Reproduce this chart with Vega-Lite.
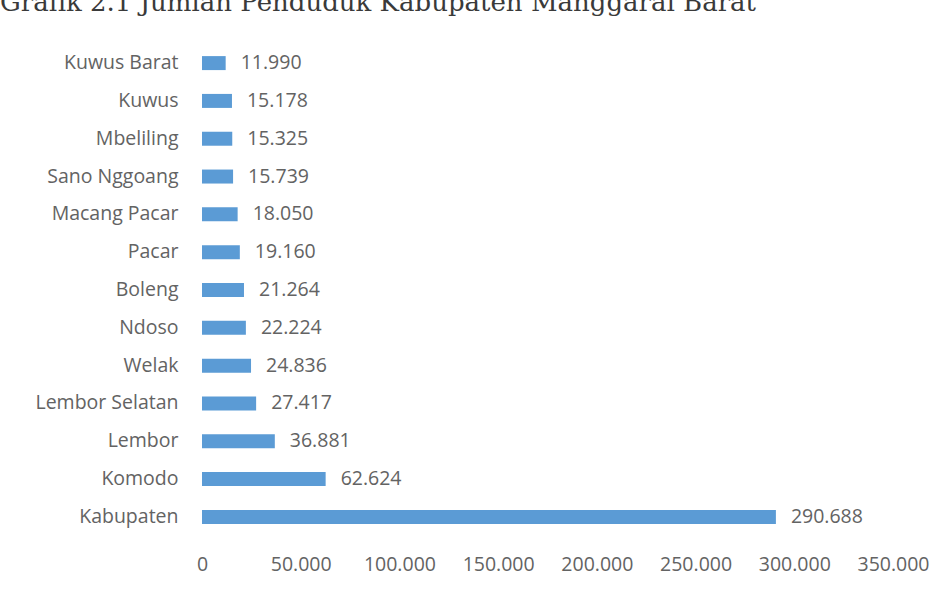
{
  "$schema": "https://vega.github.io/schema/vega-lite/v6.json",
  "autosize": "none",
  "width": 691,
  "height": 492,
  "padding": {"left": 202, "top": 44, "right": 55, "bottom": 55},
  "background": "white",
  "config": {
    "locale": {"number": {"decimal": ",", "thousands": ".", "grouping": [3], "currency": ["Rp", ""]}},
    "view": {"stroke": null},
    "font": "Open Sans"
  },
  "title": {
    "text": "Grafik 2.1 Jumlah Penduduk Kabupaten Manggarai Barat",
    "font": "DejaVu Serif",
    "fontSize": 26,
    "fontWeight": "normal",
    "color": "#3a3a3a",
    "anchor": "start",
    "frame": "group",
    "baseline": "alphabetic",
    "offset": 7,
    "dx": -202
  },
  "data": {
    "values": [
      {"kecamatan": "Kuwus Barat", "jumlah": 11990},
      {"kecamatan": "Kuwus", "jumlah": 15178},
      {"kecamatan": "Mbeliling", "jumlah": 15325},
      {"kecamatan": "Sano Nggoang", "jumlah": 15739},
      {"kecamatan": "Macang Pacar", "jumlah": 18050},
      {"kecamatan": "Pacar", "jumlah": 19160},
      {"kecamatan": "Boleng", "jumlah": 21264},
      {"kecamatan": "Ndoso", "jumlah": 22224},
      {"kecamatan": "Welak", "jumlah": 24836},
      {"kecamatan": "Lembor Selatan", "jumlah": 27417},
      {"kecamatan": "Lembor", "jumlah": 36881},
      {"kecamatan": "Komodo", "jumlah": 62624},
      {"kecamatan": "Kabupaten", "jumlah": 290688}
    ]
  },
  "encoding": {
    "y": {
      "field": "kecamatan",
      "type": "nominal",
      "sort": null,
      "title": null,
      "scale": {"paddingInner": 0.63, "paddingOuter": 0.32},
      "axis": {"domain": false, "ticks": false, "labelFontSize": 19.5, "labelColor": "#636363", "labelPadding": 24, "labelFont": "Open Sans"}
    },
    "x": {
      "field": "jumlah",
      "type": "quantitative",
      "title": null,
      "scale": {"domain": [0, 350000], "nice": false},
      "axis": {"values": [0, 50000, 100000, 150000, 200000, 250000, 300000, 350000], "format": ",d", "grid": false, "domain": false, "ticks": false, "labelFontSize": 19.5, "labelColor": "#636363", "labelPadding": 19, "labelFont": "Open Sans", "labelFlush": false}
    }
  },
  "layer": [
    {"mark": {"type": "bar", "color": "#5b9bd5"}},
    {
      "mark": {"type": "text", "align": "left", "dx": 15, "fontSize": 19.5, "color": "#636363", "font": "Open Sans"},
      "encoding": {"text": {"field": "jumlah", "type": "quantitative", "format": ",d"}}
    }
  ]
}
